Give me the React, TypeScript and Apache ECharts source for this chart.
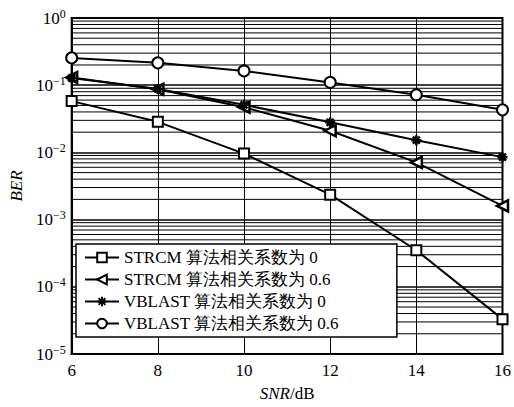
import React, { useEffect, useRef } from "react";
import * as echarts from "echarts";

const snr = [6, 8, 10, 12, 14, 16];
const strcm0 = [0.058, 0.0285, 0.0096, 0.00235, 0.00035, 0.000033];
const strcm06 = [0.13, 0.087, 0.047, 0.021, 0.0071, 0.0016];
const vblast0 = [0.128, 0.088, 0.051, 0.028, 0.0152, 0.0085];
const vblast06 = [0.255, 0.215, 0.163, 0.11, 0.072, 0.043];
const seriesNames = [
  "STRCM 算法相关系数为 0",
  "STRCM 算法相关系数为 0.6",
  "VBLAST 算法相关系数为 0",
  "VBLAST 算法相关系数为 0.6",
];
const decadeExps = [-5, -4, -3, -2, -1];
const minorMults = [2, 3, 4, 5, 6, 7, 8, 9];

const FONT = "Liberation Serif";
const asterisk = "path://M0,-10L0,10M-10,0L10,0M-7,-7L7,7M-7,7L7,-7";

export default function App() {
  const ref = useRef<HTMLDivElement>(null);
  useEffect(() => {
    if (!ref.current) return;
    const chart = echarts.init(ref.current, null, { renderer: "svg" });
    const minorValues: number[][] = [];
    decadeExps.forEach((e) =>
      minorMults.forEach((m) => minorValues.push([6, m * Math.pow(10, e)]))
    );
    const pairs = (ys: number[]) => snr.map((x, i) => [x, ys[i]]);
    const baseLine = { color: "#000", width: 2 };
    const option: any = {
      animation: false,
      backgroundColor: "#fff",
      textStyle: { fontFamily: FONT },
      grid: {
        left: 63,
        top: 18,
        right: 11,
        bottom: 52,
        show: true,
        borderColor: "#000",
        borderWidth: 2,
        backgroundColor: "transparent",
      },
      legend: {
        orient: "vertical",
        left: 76,
        top: 244,
        width: 323,
        padding: [5, 58, 5, 8],
        itemGap: 5,
        itemWidth: 34,
        itemHeight: 12,
        backgroundColor: "#fff",
        borderColor: "#000",
        borderWidth: 1.5,
        borderRadius: 0,
        textStyle: { fontFamily: FONT, fontSize: 17, color: "#000" },
        data: seriesNames,
      },
      xAxis: {
        type: "value",
        min: 6,
        max: 16,
        interval: 2,
        axisLine: { show: true, lineStyle: { color: "#000", width: 2 } },
        axisTick: { show: false },
        splitLine: { show: true, lineStyle: { color: "#000", width: 1 } },
        axisLabel: { color: "#000", fontSize: 17, fontFamily: FONT, margin: 8 },
        name: "{i|SNR}{n|/dB}",
        nameLocation: "middle",
        nameGap: 31,
        nameTextStyle: {
          color: "#000",
          fontSize: 17,
          fontFamily: FONT,
          rich: {
            i: { fontStyle: "italic", fontSize: 17, fontFamily: FONT, color: "#000" },
            n: { fontSize: 17, fontFamily: FONT, color: "#000" },
          },
        },
      },
      yAxis: {
        type: "log",
        logBase: 10,
        min: 1e-5,
        max: 1,
        axisLine: { show: true, lineStyle: { color: "#000", width: 2 } },
        axisTick: { show: false },
        splitLine: { show: true, lineStyle: { color: "#000", width: 1.5 } },
        axisLabel: {
          color: "#000",
          margin: 6,
          fontFamily: FONT,
          formatter: (v: number) => {
            const e = Math.round(Math.log10(v));
            return "{b|10}{s|" + (e === 0 ? "0" : "\u2212" + -e) + "}";
          },
          rich: {
            b: { fontSize: 17, fontFamily: FONT, color: "#000" },
            s: { fontSize: 12, fontFamily: FONT, color: "#000", padding: [0, 0, 9, 0] },
          },
        },
        name: "BER",
        nameLocation: "middle",
        nameGap: 44,
        nameTextStyle: { color: "#000", fontSize: 17, fontStyle: "italic", fontFamily: FONT },
      },
      series: [
        {
          name: "minorGrid",
          type: "custom",
          silent: true,
          z: 1,
          data: minorValues,
          renderItem: (params: any, api: any) => {
            const cs = params.coordSys;
            const p = api.coord([api.value(0), api.value(1)]);
            return {
              type: "line",
              shape: { x1: cs.x, y1: p[1], x2: cs.x + cs.width, y2: p[1] },
              style: { stroke: "#000", lineWidth: 1 },
            };
          },
        },
        {
          name: seriesNames[0],
          type: "line",
          data: pairs(strcm0),
          symbol: "rect",
          symbolSize: 10,
          lineStyle: baseLine,
          itemStyle: { color: "#fff", borderColor: "#000", borderWidth: 2 },
          z: 3,
        },
        {
          name: seriesNames[1],
          type: "line",
          data: pairs(strcm06),
          symbol: "triangle",
          symbolRotate: 90,
          symbolSize: 11,
          lineStyle: baseLine,
          itemStyle: { color: "#fff", borderColor: "#000", borderWidth: 2.5 },
          z: 3,
        },
        {
          name: seriesNames[2],
          type: "line",
          data: pairs(vblast0),
          symbol: asterisk,
          symbolSize: 10,
          lineStyle: baseLine,
          itemStyle: { color: "#000", borderColor: "#000", borderWidth: 2.5 },
          z: 3,
        },
        {
          name: seriesNames[3],
          type: "line",
          data: pairs(vblast06),
          symbol: "circle",
          symbolSize: 11,
          lineStyle: baseLine,
          itemStyle: { color: "#fff", borderColor: "#000", borderWidth: 2 },
          z: 3,
        },
      ],
    };
    chart.setOption(option);
    return () => chart.dispose();
  }, []);
  return <div ref={ref} style={{ width: 514, height: 407, position: "absolute", left: 0, top: 0 }} />;
}
